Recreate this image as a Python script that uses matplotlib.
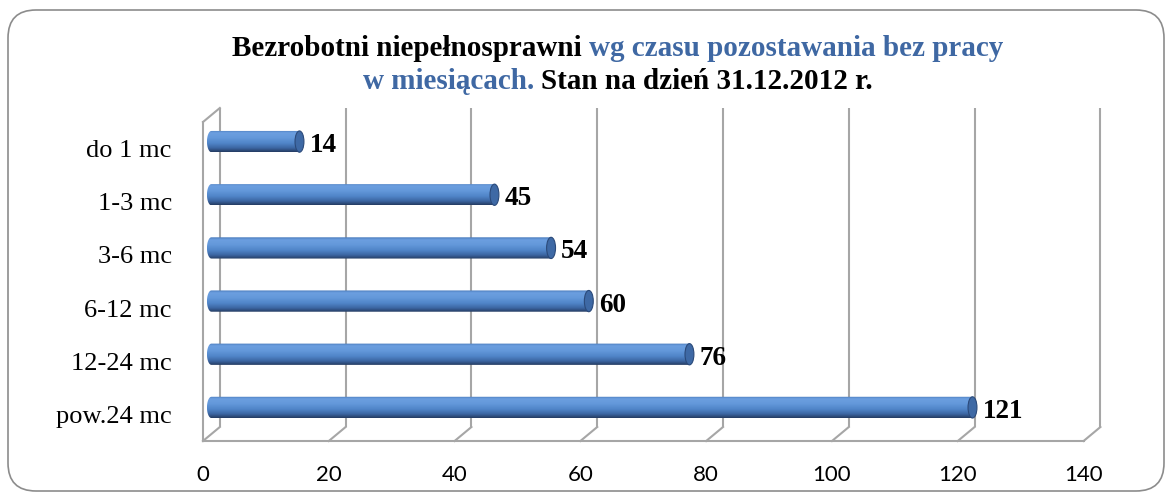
import numpy as np
import matplotlib
matplotlib.use('Agg')
import matplotlib.pyplot as plt
from matplotlib.patches import Ellipse, Polygon, FancyBboxPatch
from matplotlib.colors import LinearSegmentedColormap

# ---------------- data ----------------
categories = ['do 1 mc', '1-3 mc', '3-6 mc', '6-12 mc', '12-24 mc', 'pow.24 mc']
values = [14, 45, 54, 60, 76, 121]
xticks = [0, 20, 40, 60, 80, 100, 120, 140]
BLUE_T = '#3f68a3'
title_line1 = [('Bezrobotni niepełnosprawni', 'black'), ('wg czasu pozostawania bez pracy', BLUE_T)]
title_line2 = [('w miesiącach.', BLUE_T), ('Stan na dzień 31.12.2012 r.', 'black')]

# ---------------- figure ----------------
W, H = 1170, 495
fig = plt.figure(figsize=(W / 100, H / 100), dpi=100)
fig.patch.set_facecolor('white')

# rounded outer frame
frame = FancyBboxPatch((0.08, 0.04), 11.56, 4.81,
                       boxstyle='round,pad=0,rounding_size=0.28',
                       transform=fig.dpi_scale_trans, facecolor='none',
                       edgecolor='#8c8c8c', lw=1.2)
fig.patches.append(frame)

ax_l, ax_b, ax_w, ax_h = 203.0, 61.0, 889.0, 319.0
ax = fig.add_axes([ax_l / W, ax_b / H, ax_w / W, ax_h / H])
n = len(categories)
xmax = 140
ax.set_xlim(0, xmax)
ax.set_ylim(-0.5, n - 0.5)
for s in ax.spines.values():
    s.set_visible(False)
ax.set_facecolor('none')

ppx = ax_w / xmax
ppy = ax_h / n
DX = 8.5 / ppx   # depth offset in data units
DY = 7.0 / ppy

ypos = np.arange(n)[::-1]

# ---------------- 3D frame / gridlines ----------------
gc = '#a6a6a6'
glw = 1.5
top = n - 0.5
bot = -0.5
for x in xticks:
    ax.plot([x + DX, x + DX], [bot + DY, top + DY], color=gc, lw=glw, clip_on=False, zorder=1,
            solid_capstyle='butt')
    ax.plot([x + DX, x - DX], [bot + DY, bot - DY], color=gc, lw=glw, clip_on=False, zorder=1)
ax.plot([xticks[0] - DX, xticks[-1] - DX], [bot - DY, bot - DY], color=gc, lw=glw, clip_on=False, zorder=1)
ax.plot([-DX, -DX], [bot - DY, top - DY], color=gc, lw=glw, clip_on=False, zorder=1)
ax.plot([-DX, DX], [top - DY, top + DY], color=gc, lw=glw, clip_on=False, zorder=1)

# ---------------- cylinder bars ----------------
cmap = LinearSegmentedColormap.from_list('cyl', [
    (0.0, '#4a7cbd'), (0.12, '#6c9fe0'), (0.35, '#6398da'),
    (0.6, '#5085c8'), (0.82, '#3c66a3'), (1.0, '#243c62')])
grad = np.linspace(0, 1, 64).reshape(-1, 1)
h = 0.40
rx = 4.5 / ppx
for y, v in zip(ypos, values):
    t = np.linspace(np.pi / 2, 3 * np.pi / 2, 40)
    pts = np.column_stack([rx * np.cos(t), y + h / 2 * np.sin(t)])
    pts = np.vstack([pts, [[v, y - h / 2], [v, y + h / 2]]])
    clip = Polygon(pts, closed=True, facecolor='none', edgecolor='none')
    ax.add_patch(clip)
    im = ax.imshow(grad, cmap=cmap, extent=[-rx, v, y - h / 2, y + h / 2],
                   aspect='auto', origin='upper', zorder=3, interpolation='bilinear')
    im.set_clip_path(clip)
    cap = Ellipse((v, y), 2 * rx, h, facecolor='#3e69a5', edgecolor='#2b4a7a', lw=0.8, zorder=4)
    ax.add_patch(cap)
    ax.annotate(str(v), (v, y), xytext=(10 * 0.72, -4 * 0.72), textcoords='offset points',
                ha='left', va='center', fontsize=19.5, fontweight='bold',
                family='Liberation Serif', color='black', zorder=5)

ax.set_xlim(0, xmax)
ax.set_ylim(-0.5, n - 0.5)

# ---------------- ticks (front plane) ----------------
ax.set_yticks(ypos - DY)
ax.set_yticklabels(categories, fontsize=19, family='Liberation Serif')
ax.set_xticks([x - DX for x in xticks])
ax.set_xticklabels([str(x) for x in xticks], fontsize=16, family='Lato')
ax.tick_params(axis='y', length=0, pad=22.5)
ax.tick_params(axis='x', length=0, pad=22)

# ---------------- title with mixed colours ----------------
renderer = fig.canvas.get_renderer()
tfs = 21
tprops = dict(fontsize=tfs, fontweight='bold', family='Liberation Serif')


def _w(s):
    t = fig.text(0, 0, s, **tprops)
    w = t.get_window_extent(renderer).width
    t.remove()
    return w


space_w = _w('a a') - _w('aa')


def mixed_line(parts, baseline_px, center_px=618):
    widths = [_w(s) for s, _ in parts]
    total = sum(widths) + space_w * (len(parts) - 1)
    x = center_px - total / 2
    for (s, c), w in zip(parts, widths):
        fig.text(x / W, 1 - baseline_px / H, s, color=c, ha='left', va='baseline', **tprops)
        x += w + space_w


mixed_line(title_line1, 56)
mixed_line(title_line2, 89)

fig.savefig('out.png', dpi=100, facecolor='white')
